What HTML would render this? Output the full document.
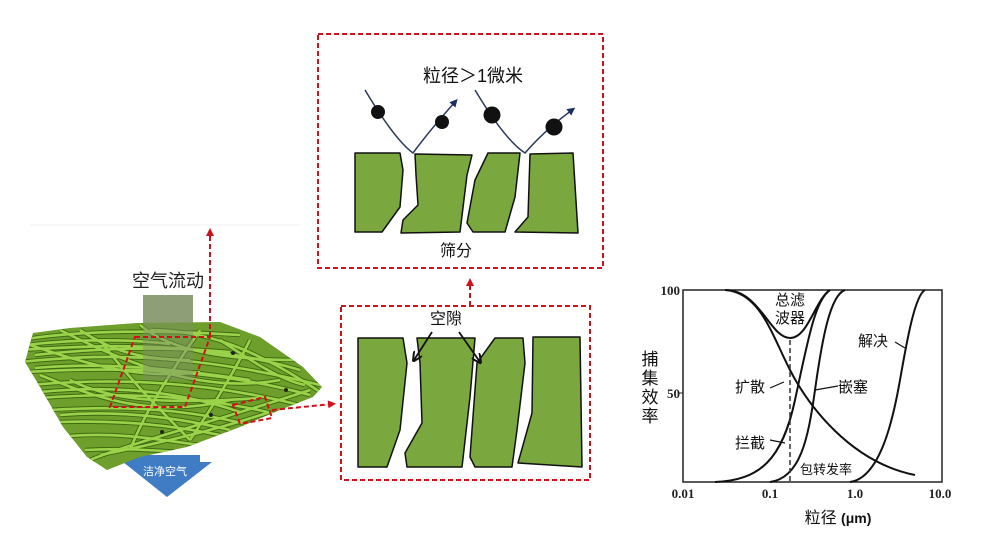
<!DOCTYPE html>
<html><head><meta charset="utf-8"><style>
html,body{margin:0;padding:0;background:#fff;}
svg{display:block;}
text{font-family:"Liberation Sans","Noto Sans CJK SC",sans-serif;}
text.sf{font-family:"Liberation Serif",serif;font-weight:bold;}
</style></head><body>
<svg width="1000" height="538" viewBox="0 0 1000 538" xmlns="http://www.w3.org/2000/svg">
<defs>
<clipPath id="mat"><path d="M25,362 L33,333 L70,328 L137,323 L220,322 L260,337 L303,367 L322,387 L313,397 L280,410 L240,427 L187,447 L140,457 L107,470 L87,457 L63,427 L40,387 Z"/></clipPath>
<marker id="ra" markerWidth="8" markerHeight="8" refX="4" refY="4" orient="auto" markerUnits="userSpaceOnUse"><path d="M0,0 L8,4 L0,8 Z" fill="#d0101a"/></marker>
<marker id="ba" markerWidth="8" markerHeight="8" refX="4" refY="4" orient="auto" markerUnits="userSpaceOnUse"><path d="M0,0 L8,4 L0,8 Z" fill="#1a3060"/></marker>
<marker id="ka" markerWidth="10" markerHeight="10" refX="8" refY="5" orient="auto" markerUnits="userSpaceOnUse"><path d="M0,0 L10,5 L0,10" fill="none" stroke="#111" stroke-width="2"/></marker>
<g id="fib">
<path d="M20,340 C80,330 160,330 240,335"/><path d="M20,350 C100,345 200,340 300,370"/>
<path d="M20,362 C90,355 180,350 320,385"/><path d="M25,372 C100,368 200,365 310,395"/>
<path d="M30,385 C110,378 200,380 300,405"/><path d="M40,398 C120,392 200,395 280,415"/>
<path d="M50,410 C130,405 190,410 250,425"/><path d="M60,422 C120,420 170,425 220,435"/>
<path d="M70,436 C120,432 160,440 200,445"/><path d="M85,450 C120,448 150,450 180,452"/>
<path d="M30,345 C90,365 140,380 200,372"/><path d="M60,330 C120,360 200,395 280,380"/>
<path d="M140,325 C170,350 220,360 300,360"/><path d="M40,375 C90,395 150,420 230,400"/>
<path d="M100,340 C130,380 160,410 190,440"/><path d="M200,330 C180,360 150,400 130,450"/>
<path d="M250,340 C230,380 210,410 190,440"/><path d="M70,380 C110,400 160,405 260,398"/>
<path d="M35,355 C80,350 150,345 230,352"/><path d="M90,460 C140,440 220,420 310,390"/>
<path d="M25,345 C70,340 120,338 170,344"/><path d="M150,330 C200,330 250,345 320,392"/>
<path d="M40,392 C100,386 170,388 240,412"/><path d="M60,415 C120,410 180,418 230,430"/>
<path d="M100,455 C150,445 210,432 270,412"/><path d="M35,368 C100,362 170,368 250,380"/>
<path d="M80,330 C110,350 140,360 190,360"/><path d="M220,340 C250,360 280,380 305,385"/>
</g>
</defs>
<line x1="30" y1="225" x2="300" y2="225" stroke="#f2f2f2" stroke-width="1"/>
<rect x="143" y="295" width="50" height="70" fill="#8e9f78"/>
<text x="168" y="287" font-size="18" text-anchor="middle" fill="#222">空气流动</text>
<path d="M120,455 L200,455 L200,462 L212,462 L167,497 L123,462 L120,462 Z" fill="#3f7cc4"/>
<path d="M25,362 L33,333 L70,328 L137,323 L220,322 L260,337 L303,367 L322,387 L313,397 L280,410 L240,427 L187,447 L140,457 L107,470 L87,457 L63,427 L40,387 Z" fill="#6e9e2c"/>
<g clip-path="url(#mat)" fill="none">
<use href="#fib" stroke="#3f6a12" stroke-width="4.5"/>
<use href="#fib" stroke="#9ad24a" stroke-width="2.6"/>
<rect x="143" y="320" width="50" height="60" fill="#7f8f6a" opacity="0.45"/>
</g>
<g fill="#222"><circle cx="233" cy="353" r="2"/><circle cx="211" cy="415" r="2"/><circle cx="162" cy="432" r="2"/><circle cx="286" cy="390" r="2"/></g>
<text x="165" y="475" font-size="11" text-anchor="middle" fill="#fff">洁净空气</text>
<g fill="none" stroke="#d0101a" stroke-width="2" stroke-dasharray="5,3">
<line x1="210" y1="337" x2="210" y2="232" marker-end="url(#ra)"/>
<path d="M135,337 L210,337 L185,407 L110,407 Z"/>
<path d="M233,405 L265,397 L272,418 L240,424 Z"/>
<line x1="272" y1="410" x2="332" y2="404" marker-end="url(#ra)"/>
<line x1="470" y1="306" x2="470" y2="282" marker-end="url(#ra)"/>
<rect x="318" y="34" width="285" height="234"/>
<rect x="341" y="306" width="249" height="174"/>
</g>
<text x="473" y="82" font-size="18" text-anchor="middle" fill="#111">粒径＞1微米</text>
<g fill="#7aa83e" stroke="#111" stroke-width="1.5" stroke-linejoin="round">
<path d="M355,153 L400,153 L403,170 L400,207 L382,232 L355,232 Z"/>
<path d="M415,154 L472,155 L467,175 L460,232 L401,233 L403,220 L418,205 L416,175 Z"/>
<path d="M488,153 L520,153 L515,197 L505,232 L473,232 L467,223 L475,180 Z"/>
<path d="M530,154 L573,153 L578,233 L515,232 L528,217 Z"/>
</g>
<g fill="none" stroke="#2a3a5a" stroke-width="1.5">
<path d="M365,90 Q395,140 413,153 Q430,130 455,102" marker-end="url(#ba)"/>
<path d="M475,90 Q505,140 525,153 Q545,130 572,110" marker-end="url(#ba)"/>
</g>
<g fill="#111"><circle cx="378" cy="112" r="7"/><circle cx="442" cy="122" r="7"/><circle cx="492" cy="115" r="8.5"/><circle cx="554" cy="127" r="8.5"/></g>
<text x="456" y="256" font-size="16" text-anchor="middle" fill="#111">筛分</text>
<g fill="#7aa83e" stroke="#111" stroke-width="1.5" stroke-linejoin="round">
<path d="M358,338 L403,338 L407,363 L400,430 L387,467 L358,467 Z"/>
<path d="M417,338 L475,338 L470,397 L462,467 L407,467 L405,453 L422,423 L420,363 Z"/>
<path d="M495,338 L523,338 L525,363 L517,430 L512,467 L475,467 L470,457 L477,363 Z"/>
<path d="M533,337 L580,337 L582,467 L518,463 L532,413 Z"/>
</g>
<text x="446" y="324" font-size="16" text-anchor="middle" fill="#111">空隙</text>
<g stroke="#111" stroke-width="1.8"><line x1="432" y1="332" x2="414" y2="360" marker-end="url(#ka)"/><line x1="459" y1="332" x2="480" y2="362" marker-end="url(#ka)"/></g>
<rect x="683" y="290" width="259" height="192" fill="none" stroke="#222" stroke-width="1.5"/>
<line x1="679" y1="393" x2="683" y2="393" stroke="#222"/>
<g font-size="13" fill="#222">
<text class="sf" x="680" y="295" text-anchor="end">100</text>
<text class="sf" x="680" y="398" text-anchor="end">50</text>
<text class="sf" x="683" y="498" text-anchor="middle">0.01</text>
<text class="sf" x="770" y="498" text-anchor="middle">0.1</text>
<text class="sf" x="855" y="498" text-anchor="middle">1.0</text>
<text class="sf" x="940" y="498" text-anchor="middle">10.0</text>
</g>
<g font-size="17" fill="#111" text-anchor="middle"><text x="650" y="365">捕</text><text x="650" y="384">集</text><text x="650" y="403">效</text><text x="650" y="422">率</text></g>
<text x="838" y="523" font-size="16" text-anchor="middle" fill="#111">粒径 <tspan font-weight="bold" font-size="14">(μm)</tspan></text>
<g fill="none" stroke="#111" stroke-width="2">
<path d="M725,290 C760,292 772,335 790,370 S850,462 915,475"/>
<path d="M715,482 C760,480 782,460 795,400 S815,300 830,290"/>
<path d="M770,482 C800,478 808,440 815,390 S830,295 845,290"/>
<path d="M850,482 C880,478 893,420 900,380 S915,295 925,290"/>
<path d="M725,290 C760,290 770,338 790,338 C808,338 815,300 830,290"/>
</g>
<line x1="790" y1="340" x2="790" y2="482" stroke="#333" stroke-width="1.5" stroke-dasharray="5,3"/>
<g stroke="#111" stroke-width="1.2"><line x1="770" y1="388" x2="784" y2="382"/><line x1="838" y1="386" x2="815" y2="390"/><line x1="770" y1="440" x2="785" y2="443"/><line x1="895" y1="342" x2="905" y2="348"/></g>
<g font-size="15" fill="#111" text-anchor="middle">
<text x="790" y="305">总滤</text><text x="790" y="323">波器</text>
<text x="873" y="346">解决</text><text x="750" y="392">扩散</text>
<text x="853" y="392">嵌塞</text><text x="750" y="448">拦截</text>
</g>
<text x="826" y="474" font-size="13" text-anchor="middle" fill="#111">包转发率</text>
</svg>
</body></html>
